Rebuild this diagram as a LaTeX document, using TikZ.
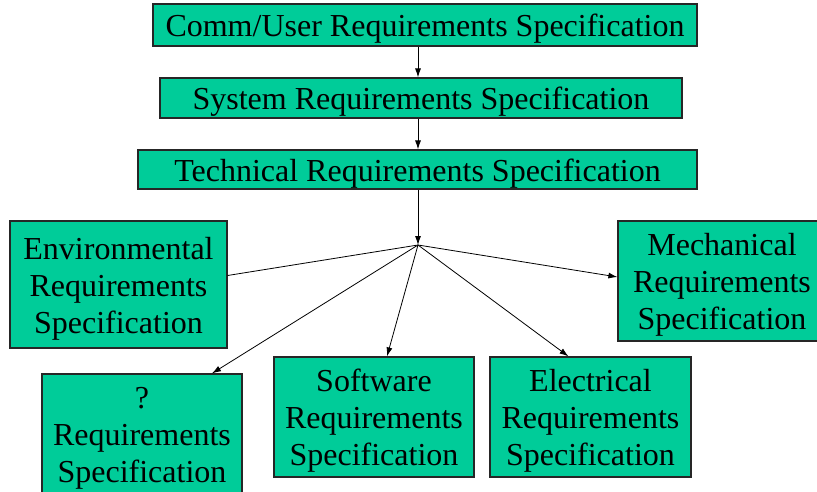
\documentclass[tikz,border=0pt]{standalone}
\usepackage{fontspec}
\setmainfont{Liberation Serif}
\usetikzlibrary{calc,arrows.meta}
\definecolor{boxgreen}{RGB}{0,204,153}
\begin{document}
\begin{tikzpicture}[x=1pt,y=-1pt,
  spec/.style={draw=black!85,line width=1.2pt,fill=boxgreen,inner sep=0pt},
  txt/.style={label={[align=center,inner sep=0pt,yshift=-4pt,font=\fontsize{32}{37}\selectfont]center:#1}},
  conn/.style={line width=0.8pt,-{Latex[length=9pt,width=6pt]}},
  plain/.style={line width=0.8pt}]
\useasboundingbox (0,0) rectangle (817,492);
\begin{scope}
\clip (0,0) rectangle (817,492);
\node[spec,minimum width=544pt,minimum height=42pt,txt={Comm/User Requirements Specification}] (comm) at (425,25) {};
\node[spec,minimum width=522pt,minimum height=40pt,txt={System Requirements Specification}] (sys) at (421,98) {};
\node[spec,minimum width=559pt,minimum height=39pt,txt={Technical Requirements Specification}] (tech) at (417.5,169.5) {};
\node[spec,minimum width=217pt,minimum height=127pt,txt={Environmental\\Requirements\\Specification}] (env) at (118.5,284.5) {};
\node[spec,minimum width=208pt,minimum height=120pt,txt={Mechanical\\Requirements\\Specification}] (mech) at (722,281) {};
\node[spec,minimum width=200pt,minimum height=120pt,txt={?\\Requirements\\Specification}] (q) at (142,434) {};
\node[spec,minimum width=200pt,minimum height=120pt,txt={Software\\Requirements\\Specification}] (soft) at (374,417) {};
\node[spec,minimum width=201pt,minimum height=120pt,txt={Electrical\\Requirements\\Specification}] (elec) at (590.5,417) {};
\end{scope}
\coordinate (hub) at (418,245);
\draw[conn] (comm.south -| hub) -- (sys.north -| hub);
\draw[conn] (sys.south -| hub) -- (tech.north -| hub);
\draw[conn] (tech.south -| hub) -- (hub);
\draw[plain] (hub) -- ($(env.east)+(0,-9)$);
\draw[conn] (hub) -- ($(mech.west)+(0,-4)$);
\draw[conn] (hub) -- ($(q.north)+(70,0)$);
\draw[conn] (hub) -- ($(soft.north)+(13,0)$);
\draw[conn] (hub) -- ($(elec.north)+(-22,0)$);
\end{tikzpicture}
\end{document}
